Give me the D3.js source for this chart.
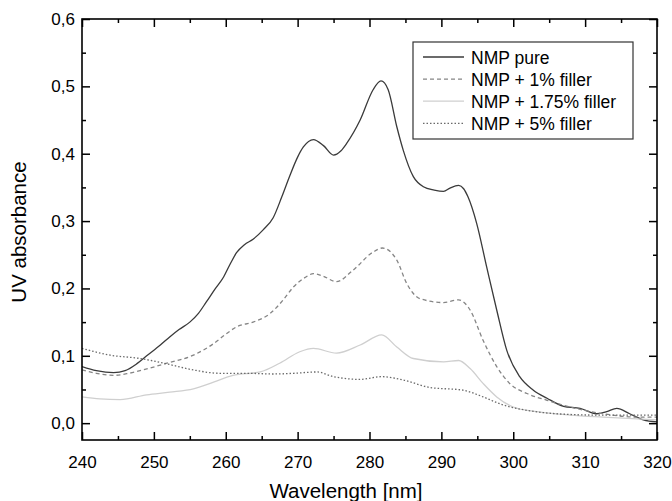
<!DOCTYPE html>
<html>
<head>
<meta charset="utf-8">
<script src="https://cdn.jsdelivr.net/npm/d3@7"></script>
<style>
  body { margin: 0; background: #fff; }
  svg { display: block; font-family: "Liberation Sans", Arial, sans-serif; }
</style>
</head>
<body>
<svg id="chart" width="672" height="501"></svg>
<script>
// UV absorbance spectra of NMP with increasing filler content
const seriesNames = ["NMP pure", "NMP + 1% filler", "NMP + 1.75% filler", "NMP + 5% filler"];

const nmpPure = [[240,0.084],[242,0.078],[244.4,0.075],[246,0.078],[247.6,0.088],[249,0.100],[250.9,0.116],[252.2,0.128],[253.5,0.139],[255,0.150],[256.2,0.163],[257.3,0.180],[258.5,0.199],[259.7,0.217],[260.6,0.236],[261.5,0.253],[262.6,0.265],[263.8,0.273],[265.2,0.287],[266.6,0.305],[267.8,0.336],[268.9,0.367],[270,0.395],[270.8,0.410],[272.2,0.421],[273.6,0.412],[275,0.398],[276,0.404],[276.8,0.415],[278.7,0.450],[280.5,0.495],[281.6,0.508],[282.6,0.495],[283.8,0.440],[284.7,0.405],[286.1,0.366],[287.5,0.351],[289,0.346],[290.3,0.344],[291.2,0.349],[292.4,0.353],[293.1,0.348],[293.7,0.336],[294.9,0.297],[296.3,0.232],[297.7,0.168],[299.1,0.108],[300.9,0.069],[302.8,0.049],[304.7,0.037],[307,0.025],[309.3,0.022],[311.6,0.014],[313,0.017],[314.4,0.022],[316.2,0.014],[318.1,0.005],[320,0.002]];

const nmpFiller1 = [[240,0.079],[242,0.074],[244.4,0.071],[246.5,0.074],[248.5,0.079],[251.8,0.089],[255.5,0.101],[258.3,0.118],[260,0.132],[261.5,0.143],[263.8,0.150],[266.2,0.163],[268,0.183],[269.4,0.202],[271,0.216],[272.2,0.222],[273.6,0.218],[275.4,0.210],[277.7,0.227],[280.5,0.254],[281.8,0.260],[283.8,0.242],[285.2,0.207],[287,0.185],[290.3,0.179],[292.4,0.183],[294,0.168],[295.8,0.123],[297.7,0.084],[299.5,0.059],[301.9,0.044],[304.7,0.034],[307.9,0.024],[312.5,0.014],[317.2,0.009],[320,0.009]];

const nmpFiller175 = [[240,0.039],[242.5,0.036],[245.3,0.035],[249,0.042],[252.2,0.046],[255.5,0.051],[258.3,0.061],[261,0.071],[264.8,0.076],[267.5,0.089],[270.3,0.106],[272.2,0.111],[275.4,0.104],[278.7,0.116],[281.7,0.131],[283.8,0.113],[286.1,0.096],[290.3,0.091],[292.4,0.093],[294,0.081],[295.8,0.059],[297.7,0.039],[300,0.024],[303.3,0.017],[307.9,0.012],[312.5,0.009],[320,0.005]];

const nmpFiller5 = [[240,0.111],[243.9,0.101],[248.1,0.096],[251.8,0.088],[255.5,0.079],[259.2,0.074],[262.9,0.074],[266.6,0.073],[269.4,0.074],[272.7,0.076],[275,0.069],[278.7,0.065],[281.7,0.069],[284.7,0.064],[288.4,0.053],[293,0.049],[295.8,0.039],[298.6,0.027],[301.9,0.019],[306,0.014],[311.6,0.012],[320,0.012]];

const xTicks = [240, 250, 260, 270, 280, 290, 300, 310, 320];
const yTicks = [0, 0.1, 0.2, 0.3, 0.4, 0.5, 0.6];
const xMinorTicks = [245, 255, 265, 275, 285, 295, 305, 315];
const yMinorTicks = [0.05, 0.15, 0.25, 0.35, 0.45, 0.55];

const seriesData = [nmpPure, nmpFiller1, nmpFiller175, nmpFiller5];
const seriesStyle = [
  { color: "#3a3a3a", dash: null, width: 1.3 },
  { color: "#858585", dash: "4,3", width: 1.3 },
  { color: "#cfcfcf", dash: null, width: 1.3 },
  { color: "#6a6a6a", dash: "1.5,2", width: 1.3 }
];

const svg = d3.select("#chart");
const plotLeft = 82, plotRight = 657, plotTop = 19, plotBottom = 440;

const x = d3.scaleLinear().domain([240, 320]).range([plotLeft, plotRight]);
const y = d3.scaleLinear().domain([-0.025, 0.6]).range([plotBottom, plotTop]);

const fmt = d => d3.format(".1f")(d).replace(".", ",");

// curves
const line = d3.line().x(d => x(d[0])).y(d => y(d[1])).curve(d3.curveMonotoneX);
svg.append("defs").append("clipPath").attr("id", "clip")
  .append("rect").attr("x", plotLeft).attr("y", plotTop)
  .attr("width", plotRight - plotLeft).attr("height", plotBottom - plotTop);
const curves = svg.append("g").attr("clip-path", "url(#clip)");
seriesData.forEach((data, i) => {
  const s = seriesStyle[i];
  curves.append("path")
    .datum(data)
    .attr("d", line)
    .attr("fill", "none")
    .attr("stroke", s.color)
    .attr("stroke-width", s.width)
    .attr("stroke-dasharray", s.dash);
});

// axes with inward ticks on all four sides
function styleAxis(g) {
  g.select(".domain").remove();
  g.selectAll("line").attr("stroke", "#000").attr("stroke-width", 1.5);
  g.selectAll("text").attr("fill", "#000").style("font-size", "17px")
    .style("font-family", "'Liberation Sans', Arial, sans-serif");
}

const xBottom = svg.append("g").attr("transform", `translate(0,${plotBottom})`)
  .call(d3.axisBottom(x).tickValues(xTicks).tickSizeInner(-8).tickSizeOuter(0).tickPadding(16).tickFormat(d3.format("d")));
styleAxis(xBottom);
const xBottomMinor = svg.append("g").attr("transform", `translate(0,${plotBottom})`)
  .call(d3.axisBottom(x).tickValues(xMinorTicks).tickSize(-4).tickFormat(""));
styleAxis(xBottomMinor);

const xTop = svg.append("g").attr("transform", `translate(0,${plotTop})`)
  .call(d3.axisTop(x).tickValues(xTicks).tickSize(-8).tickFormat(""));
styleAxis(xTop);
const xTopMinor = svg.append("g").attr("transform", `translate(0,${plotTop})`)
  .call(d3.axisTop(x).tickValues(xMinorTicks).tickSize(-4).tickFormat(""));
styleAxis(xTopMinor);

const yLeft = svg.append("g").attr("transform", `translate(${plotLeft},0)`)
  .call(d3.axisLeft(y).tickValues(yTicks).tickSizeInner(-8).tickSizeOuter(0).tickPadding(7).tickFormat(fmt));
styleAxis(yLeft);
const yLeftMinor = svg.append("g").attr("transform", `translate(${plotLeft},0)`)
  .call(d3.axisLeft(y).tickValues(yMinorTicks).tickSize(-4).tickFormat(""));
styleAxis(yLeftMinor);

const yRight = svg.append("g").attr("transform", `translate(${plotRight},0)`)
  .call(d3.axisRight(y).tickValues(yTicks).tickSize(-8).tickFormat(""));
styleAxis(yRight);
const yRightMinor = svg.append("g").attr("transform", `translate(${plotRight},0)`)
  .call(d3.axisRight(y).tickValues(yMinorTicks).tickSize(-4).tickFormat(""));
styleAxis(yRightMinor);

// frame
svg.append("rect")
  .attr("x", plotLeft).attr("y", plotTop)
  .attr("width", plotRight - plotLeft).attr("height", plotBottom - plotTop)
  .attr("fill", "none").attr("stroke", "#000").attr("stroke-width", 1.6);

// axis titles
svg.append("text")
  .attr("x", 346).attr("y", 498)
  .attr("text-anchor", "middle")
  .style("font-size", "20.5px")
  .text("Wavelength [nm]");
svg.append("text")
  .attr("transform", `translate(26,232) rotate(-90)`)
  .attr("text-anchor", "middle")
  .style("font-size", "20.5px")
  .text("UV absorbance");

// legend
const lg = svg.append("g").attr("transform", "translate(413,42)");
lg.append("rect").attr("width", 220).attr("height", 97)
  .attr("fill", "#fff").attr("stroke", "#333").attr("stroke-width", 1.2);
seriesNames.forEach((name, i) => {
  const s = seriesStyle[i];
  const cy = 15 + i * 22.1;
  lg.append("line")
    .attr("x1", 10).attr("x2", 51).attr("y1", cy).attr("y2", cy)
    .attr("stroke", s.color).attr("stroke-width", s.width)
    .attr("stroke-dasharray", s.dash);
  lg.append("text")
    .attr("x", 58).attr("y", cy + 7)
    .style("font-size", "17.5px")
    .text(name);
});
</script>
</body>
</html>
